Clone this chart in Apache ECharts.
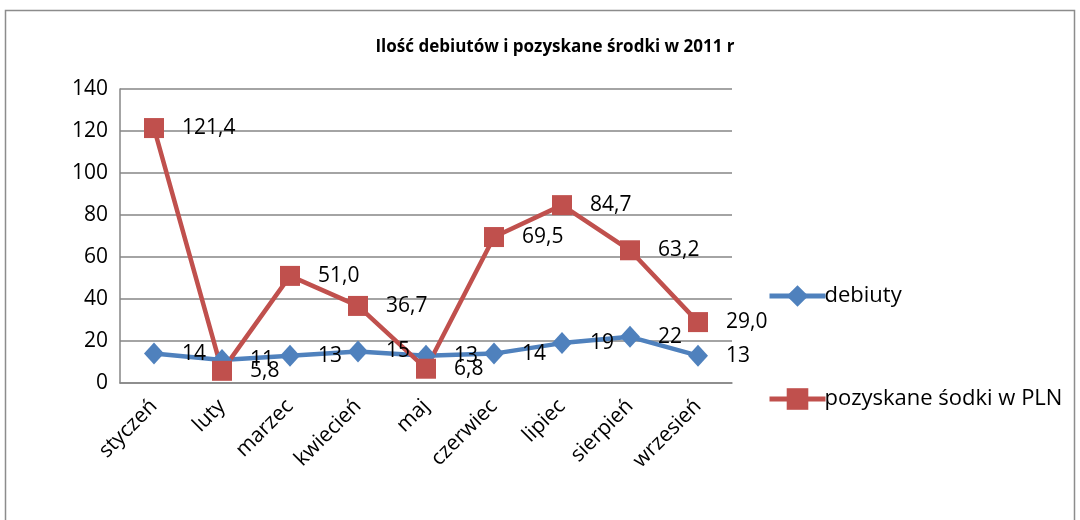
<!DOCTYPE html>
<html><head><meta charset="utf-8">
<script src="https://cdn.jsdelivr.net/npm/echarts@6/dist/echarts.min.js"></script>
<style>html,body{margin:0;padding:0;background:#fff}#c{width:1080px;height:520px}</style>
</head><body><div id="c"></div>
<script>
const categories = ['styczeń','luty','marzec','kwiecień','maj','czerwiec','lipiec','sierpień','wrzesień'];
const debiuty = [14, 11, 13, 15, 13, 14, 19, 22, 13];
const srodki = [121.4, 5.8, 51.0, 36.7, 6.8, 69.5, 84.7, 63.2, 29.0];
const yTicks = [0, 20, 40, 60, 80, 100, 120, 140];
const FONT = 'Open Sans';
const chart = echarts.init(document.getElementById('c'));
chart.setOption({
  animation: false,
  graphic: [{type:'rect', shape:{x:5.5,y:10.5,width:1069,height:520}, style:{fill:'none', stroke:'#8c8c8c', lineWidth:1.5}}],
  title: {text:'Ilość debiutów i pozyskane środki w 2011 r', left:550, textAlign:'center', top:34,
    textStyle:{fontFamily:FONT, fontSize:17, fontWeight:'bold', color:'#000'}},
  grid: {left:120, right:348, top:89, bottom:137},
  legend: {orient:'vertical', left:762, top:280, itemGap:81, itemWidth:56, itemHeight:27,
    textStyle:{fontFamily:FONT, fontSize:22, color:'#000', padding:[0,0,0,-6]},
    data:[
      {name:'debiuty', itemStyle:{color:'#4F81BD'}, lineStyle:{color:'#4F81BD', width:5}},
      {name:'pozyskane śodki w PLN', itemStyle:{color:'#C0504D'}, lineStyle:{color:'#C0504D', width:5}}
    ]},
  xAxis: {type:'category', data:categories, boundaryGap:true,
    axisLine:{lineStyle:{color:'#868686', width:1.5}}, axisTick:{show:false},
    axisLabel:{rotate:45, fontFamily:FONT, fontSize:21, color:'#000', margin:20, interval:0}},
  yAxis: {type:'value', min:yTicks[0], max:yTicks[yTicks.length-1], interval:20,
    axisLine:{show:true, lineStyle:{color:'#868686', width:1.5}}, axisTick:{show:false},
    splitLine:{lineStyle:{color:'#868686', width:1.5}},
    axisLabel:{fontFamily:FONT, fontSize:21, color:'#000', margin:12}},
  series: [
    {name:'debiuty', type:'line', data:debiuty, symbol:'diamond', symbolSize:[20,22],
      lineStyle:{color:'#4F81BD', width:4.5}, itemStyle:{color:'#4F81BD'},
      label:{show:true, position:'right', distance:18, fontFamily:FONT, fontSize:21, color:'#000'}},
    {name:'pozyskane śodki w PLN', type:'line', data:srodki, symbol:'rect', symbolSize:20,
      lineStyle:{color:'#C0504D', width:4.5}, itemStyle:{color:'#C0504D'},
      label:{show:true, position:'right', distance:18, fontFamily:FONT, fontSize:21, color:'#000',
        formatter: p => p.value.toFixed(1).replace('.', ',')}}
  ]
});
</script></body></html>
